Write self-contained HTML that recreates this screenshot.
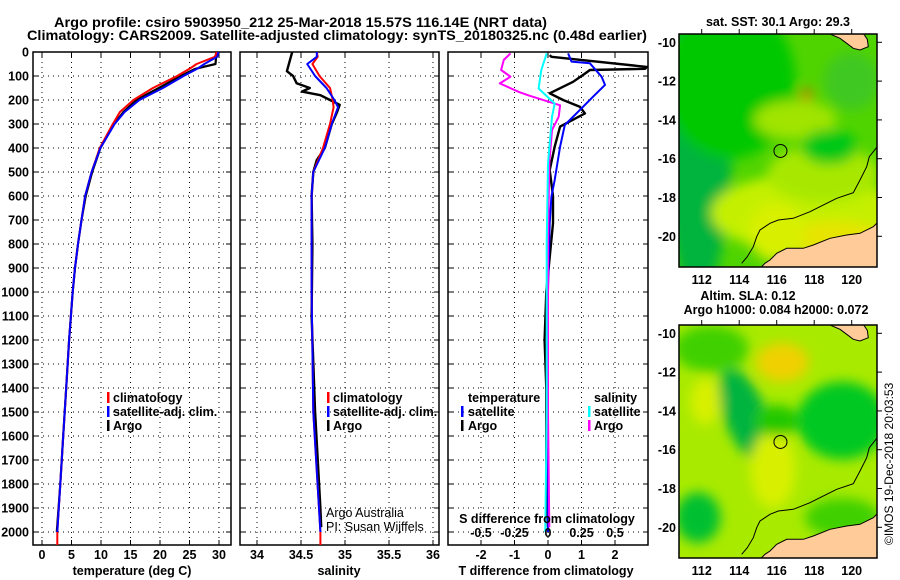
<!DOCTYPE html>
<html><head><meta charset="utf-8"><style>
html,body{margin:0;padding:0;background:#fff;}
svg{display:block;font-family:"Liberation Sans",sans-serif;}
.b{font-weight:bold;font-size:12.5px;}
.n{font-size:12.5px;}
</style></head><body>
<svg id="chart" width="900" height="580" viewBox="0 0 900 580" xmlns="http://www.w3.org/2000/svg">
<defs>
  <filter id="blur6" x="-50%" y="-50%" width="200%" height="200%"><feGaussianBlur stdDeviation="6"/></filter>
  <clipPath id="clipMap"><rect x="679" y="34" width="198" height="233"/></clipPath>
  <clipPath id="clipP1"><rect x="33" y="52" width="198" height="493"/></clipPath>
  <clipPath id="clipP2"><rect x="240" y="52" width="199" height="493"/></clipPath>
  <clipPath id="clipP3"><rect x="448" y="52" width="200" height="493"/></clipPath>
</defs>
<text class="b" x="54" y="27" textLength="493" lengthAdjust="spacingAndGlyphs" style="font-size:14px">Argo profile: csiro 5903950_212 25-Mar-2018 15.57S 116.14E (NRT data)</text>
<text class="b" x="27" y="40" textLength="620" lengthAdjust="spacingAndGlyphs" style="font-size:14px">Climatology: CARS2009. Satellite-adjusted climatology: synTS_20180325.nc (0.48d earlier)</text>
<g id="panels"></g>
<g id="maps"></g>
<text class="n" transform="translate(893,545) rotate(-90)" style="font-size:12px">©IMOS 19-Dec-2018 20:03:53</text>
</svg>
<script>
// ---------- data ----------
const depthTemp = [0,20,50,70,100,150,200,250,300,400,500,600,700,800,900,1000,1100,1200,1400,1600,1800,2000];
const depthTempClim = [0,20,50,70,100,150,200,250,300,400,500,600,700,800,900,1000,1100,1200,1400,1600,1800,2000,2060];
const tempClim = [29.6,29.3,26.2,25.0,22.9,18.8,15.5,13.2,12.0,9.8,8.4,7.3,6.7,6.1,5.6,5.2,4.9,4.6,4.1,3.6,3.1,2.6,2.6];
const tempSat = [29.9,29.7,27.5,26.3,24.0,20.5,16.5,14.0,12.3,9.9,8.4,7.3,6.7,6.1,5.6,5.2,4.9,4.6,4.1,3.6,3.1,2.6];
const tempArgo = [29.5,29.5,29.4,26.0,23.5,19.8,16.0,13.8,12.2,9.9,8.5,7.4,6.7,6.1,5.6,5.2,4.9,4.6,4.1,3.6,3.1,2.5];

const depthSalArgo = [0,80,100,130,150,165,180,200,220,250,300,400,450,500,600,800,1100,1500,1900,1980];
const salArgo = [34.40,34.34,34.41,34.45,34.60,34.51,34.72,34.83,34.94,34.91,34.85,34.77,34.68,34.64,34.62,34.63,34.62,34.66,34.72,34.73];
const depthSalClim = [0,20,50,100,150,200,230,300,400,500,600,1000,1500,2000,2060];
const salClim = [34.68,34.69,34.63,34.71,34.83,34.86,34.87,34.83,34.75,34.64,34.62,34.62,34.64,34.72,34.72];
const depthSalSat = [0,20,50,100,150,200,230,300,400,500,600,1000,1500,2000];
const salSat = [34.68,34.68,34.57,34.66,34.79,34.88,34.92,34.85,34.77,34.64,34.62,34.62,34.64,34.72];

const depthTdSat = [6,40,47,103,137,186,242,304,394,533,603,714,1000,1500,2000];
const tdSat = [0.6,0.7,1.25,1.6,1.7,1.35,0.95,0.5,0.36,0.2,0.1,0.05,0.0,0.0,0.0];
const depthTdArgo = [13,20,62,70,75,90,124,172,200,228,256,311,394,492,600,714,1000,1200,1400,1700,1980];
const tdArgo = [0.05,0.1,2.95,2.9,1.25,1.1,0.75,0.05,0.45,0.95,1.1,0.36,0.2,0.05,0.15,0.15,-0.05,-0.1,-0.05,-0.05,0.0];
const depthSdArgo = [6,33,75,103,131,166,180,194,222,270,325,464,800,1500,1980];
const sdArgo = [-0.28,-0.33,-0.35,-0.28,-0.36,-0.22,-0.15,-0.07,0.09,0.08,0.03,0.01,0.0,0.0,0.01];
const depthSdSat = [6,75,152,215,270,464,800,1500,2000];
const sdSat = [-0.01,-0.05,-0.07,0.05,0.03,0.0,-0.01,-0.01,-0.02];

const depthTicks = [0,100,200,300,400,500,600,700,800,900,1000,1100,1200,1300,1400,1500,1600,1700,1800,1900,2000];
const tempTicks = [0,5,10,15,20,25,30];
const salTicks = [34,34.5,35,35.5,36];
const tdTicks = [-2,-1,0,1,2];
const sdTicks = [-0.5,-0.25,0,0.25,0.5];
const sdTickLabels = ["-0.5","-0.25","0","0.25","0.5"];
const lonTicks = [112,114,116,118,120];
const latTicks = [-10,-12,-14,-16,-18,-20];

// ---------- helpers ----------
const NS = "http://www.w3.org/2000/svg";
function mk(tag, attrs, parent){ const e=document.createElementNS(NS,tag); for(const k in attrs) e.setAttribute(k,attrs[k]); parent.appendChild(e); return e; }
const yD = d => 52 + 0.24*d;
const xT = t => 42 + 5.9*t;
const xS = s => 257 + 88*(s-34);
const xTd = t => 548 + 33.5*t;
const xSd = s => 548 + 134*s;

const G = document.getElementById('panels');

function panel(x0,x1,name,xTickPos){
  const g = mk('g',{},G);
  
  
  depthTicks.forEach(d=>{ if(d>0){ mk('line',{x1:x0,x2:x1,y1:yD(d),y2:yD(d),stroke:'#000','stroke-width':1,'stroke-dasharray':'1,4'},g);} 
    mk('line',{x1:x0,x2:x0+5,y1:yD(d),y2:yD(d),stroke:'#000'},g);
    mk('line',{x1:x1-5,x2:x1,y1:yD(d),y2:yD(d),stroke:'#000'},g); });
  xTickPos.forEach(x=>{ mk('line',{x1:x,x2:x,y1:52,y2:545,stroke:'#000','stroke-dasharray':'1,4'},g);
    mk('line',{x1:x,x2:x,y1:52,y2:57,stroke:'#000'},g);
    mk('line',{x1:x,x2:x,y1:540,y2:545,stroke:'#000'},g); });
  mk('rect',{x:x0,y:52,width:x1-x0,height:493,fill:'none',stroke:'#000','stroke-width':1.5},g);
  return g;
}
function line(g, xs, ds, xf, color, w, name, clip){
  const pts = xs.map((v,i)=>xf(v).toFixed(1)+','+yD(ds[i]).toFixed(1)).join(' ');
  const p = mk('polyline',{points:pts,fill:'none',stroke:color,'stroke-width':w,'stroke-linejoin':'round','clip-path':'url(#'+clip+')'},g);
  
  
}
function txt(g, x, y, s, cls, anchor, name){
  const t = mk('text',{x:x,y:y,class:cls,'text-anchor':anchor||'start'},g);
  t.textContent = s;
  
  
  return t;
}
function legendMark(g,x,y,color,name){
  const r = mk('rect',{x:x,y:y-10,width:2.5,height:11,fill:color},g);
  
  
}

depthTicks.forEach(d=>{ txt(G, 29, yD(d)+4.5, String(d), 'b', 'end', 'y-tick-label'); });

// ---------- panel 1: temperature ----------
const p1 = panel(33,231,'temperature-panel', tempTicks.map(xT));
line(p1, tempArgo, depthTemp, xT, '#000', 2.2, 'temp-argo-line','clipP1');
line(p1, tempClim, depthTempClim, xT, '#f00', 2, 'temp-climatology-line','clipP1');
line(p1, tempSat, depthTemp, xT, '#00f', 2, 'temp-satellite-line','clipP1');
tempTicks.forEach(t=> txt(p1, xT(t), 559, String(t), 'b', 'middle', 'temp-tick-label'));
txt(p1, 132, 575, 'temperature (deg C)', 'b', 'middle', 'temp-axis-title');
legendMark(p1,107,402,'#f00','legend-mark-climatology'); txt(p1,113,402,'climatology','b','start','legend-climatology');
legendMark(p1,107,416,'#00f','legend-mark-satellite'); txt(p1,113,416,'satellite-adj. clim.','b','start','legend-satellite-adj');
legendMark(p1,107,430,'#000','legend-mark-argo'); txt(p1,113,430,'Argo','b','start','legend-argo');

// ---------- panel 2: salinity ----------
const p2 = panel(240,439,'salinity-panel', salTicks.map(xS));
line(p2, salArgo, depthSalArgo, xS, '#000', 2.4, 'sal-argo-line','clipP2');
line(p2, salClim, depthSalClim, xS, '#f00', 2, 'sal-climatology-line','clipP2');
line(p2, salSat, depthSalSat, xS, '#00f', 2, 'sal-satellite-line','clipP2');
salTicks.forEach(s=> txt(p2, xS(s), 559, String(s), 'b', 'middle', 'sal-tick-label'));
txt(p2, 339, 575, 'salinity', 'b', 'middle', 'sal-axis-title');
legendMark(p2,327,402,'#f00','legend-mark-climatology'); txt(p2,333,402,'climatology','b','start','legend-climatology');
legendMark(p2,327,416,'#00f','legend-mark-satellite'); txt(p2,333,416,'satellite-adj. clim.','b','start','legend-satellite-adj');
legendMark(p2,327,430,'#000','legend-mark-argo'); txt(p2,333,430,'Argo','b','start','legend-argo');
txt(p2,326,517,'Argo Australia','n','start','credit-argo-australia');
txt(p2,326,531,'PI: Susan Wijffels','n','start','credit-pi');

// ---------- panel 3: differences ----------
const p3 = panel(448,648,'difference-panel', tdTicks.map(xTd));
line(p3, tdArgo, depthTdArgo, xTd, '#000', 2.4, 'tdiff-argo-line','clipP3');
line(p3, tdSat, depthTdSat, xTd, '#00f', 2, 'tdiff-satellite-line','clipP3');
line(p3, sdArgo, depthSdArgo, xSd, '#f0f', 2, 'sdiff-argo-line','clipP3');
line(p3, sdSat, depthSdSat, xSd, '#0ff', 2, 'sdiff-satellite-line','clipP3');
tdTicks.forEach(t=> txt(p3, xTd(t), 559, String(t), 'b', 'middle', 'tdiff-tick-label'));
sdTicks.forEach((s,i)=> txt(p3, xSd(s), 537, sdTickLabels[i], 'b', 'middle', 'sdiff-tick-label'));
txt(p3, 547, 523, 'S difference from climatology', 'b', 'middle', 'sdiff-axis-title');
txt(p3, 546, 575, 'T difference from climatology', 'b', 'middle', 'tdiff-axis-title');
txt(p3,468,402,'temperature','b','start','legend-temperature-heading');
legendMark(p3,461,416,'#00f','legend-mark-t-satellite'); txt(p3,468,416,'satellite','b','start','legend-t-satellite');
legendMark(p3,461,430,'#000','legend-mark-t-argo'); txt(p3,468,430,'Argo','b','start','legend-t-argo');
txt(p3,594,402,'salinity','b','start','legend-salinity-heading');
legendMark(p3,588,416,'#0ff','legend-mark-s-satellite'); txt(p3,594,416,'satellite','b','start','legend-s-satellite');
legendMark(p3,588,430,'#f0f','legend-mark-s-argo'); txt(p3,594,430,'Argo','b','start','legend-s-argo');

// ---------- maps ----------
const M = document.getElementById('maps');
const mx = lon => 701.7 + 18.75*(lon-112);
const my = lat => 42.3 - 19.4*(lat+10);
const coast = [[245,790],[262,770],[280,740],[290,710],[300,690],[330,670],[355,660],[400,655],[450,635],[500,610],[530,595],[580,578],[600,540],[620,500],[628,470],[640,455],[652,440]];
const landS = [[300,805],[315,790],[330,780],[350,760],[380,745],[430,745],[460,735],[510,715],[560,705],[600,700],[640,680],[655,665],[655,805]];
const landN = [[505,100],[540,115],[560,130],[580,145],[600,150],[625,140],[622,118],[610,100]];
const zp = (p,dy) => p.map(q=>(q[0]/3+660).toFixed(1)+','+(q[1]/3+dy).toFixed(1)).join(' ');

function map(dy, name, blobs, base){
  const g = mk('g',{transform:'translate(0,'+dy+')'},M);
  
  
  const inner = mk('g',{'clip-path':'url(#clipMap)'},g);
  mk('rect',{x:679,y:34,width:198,height:233,fill:base},inner);
  const bg = mk('g',{filter:'url(#blur6)'},inner);
  blobs.forEach(b=> mk('ellipse',{cx:mx(b[0]),cy:my(b[1]),rx:b[2]*18.75,ry:b[3]*19.4,fill:b[4],transform:'rotate('+(b[5]||0)+' '+mx(b[0])+' '+my(b[1])+')'},bg));
  mk('polygon',{points:zp(landS,0),fill:'#ffcc99',stroke:'#000','stroke-width':1},inner);
  mk('polygon',{points:zp(landN,0),fill:'#ffcc99',stroke:'#000','stroke-width':1},inner);
  mk('polyline',{points:zp(coast,0),fill:'none',stroke:'#000','stroke-width':1},inner);
  mk('rect',{x:679,y:34,width:198,height:233,fill:'none',stroke:'#000','stroke-width':1.5},g);
  const c = mk('circle',{cx:mx(116.2),cy:my(-15.6),r:6.5,fill:'none',stroke:'#000','stroke-width':1},g);
  
  
  lonTicks.forEach(l=>{ mk('line',{x1:mx(l),x2:mx(l),y1:29,y2:34,stroke:'#000'},g); txt(g,mx(l),284,String(l),'b','middle','lon-tick-label'); });
  latTicks.forEach(l=>{ mk('line',{x1:877,x2:882,y1:my(l),y2:my(l),stroke:'#000'},g); txt(g,676,my(l)+4.5,String(l),'b','end','lat-tick-label'); });
  return g;
}
const sstBlobs = [
  [111.8,-15,1.8,8,'#00b43c'],[113.5,-12,3.5,4,'#00c800'],[117.5,-18.8,5,2,'#c4f000'],[118.5,-16.8,3,1.5,'#a8e800'],
  [117,-14,2.2,1,'#a0e400'],[119,-20.2,3,1,'#e6e400'],[116,-19.8,1.5,1.5,'#d8f000'],[118.8,-15.4,1.5,0.9,'#00c818'],
  [120,-12,1.5,1.5,'#40c820'],[117.6,-12.7,0.3,0.3,'#e07000']];
const slaBlobs = [
  [114.3,-14.2,1.1,2.5,'#00b440',-20],[119.5,-14.5,2.4,2,'#00c820'],[111.8,-19.5,1.2,1.3,'#00c030'],[112.5,-10.8,2,1.2,'#40d000'],
  [116.3,-11.5,1.4,1,'#f0d000'],[115.8,-17,1.2,2,'#d8f000'],[112.2,-13.5,0.8,1.2,'#d8f000'],[116,-14.5,1.2,0.8,'#20c800'],
  [119.5,-19.5,2,1,'#40d000']];
map(0,'sst-map',sstBlobs,'#50d400');
map(291,'sla-map',slaBlobs,'#a8ea00');
txt(M,778,26,'sat. SST: 30.1 Argo: 29.3','b','middle','sst-map-title');
txt(M,748,300,'Altim. SLA: 0.12','b','middle','sla-map-title');
txt(M,776,314,'Argo h1000: 0.084 h2000: 0.072','b','middle','sla-map-subtitle');
</script>
</body></html>
